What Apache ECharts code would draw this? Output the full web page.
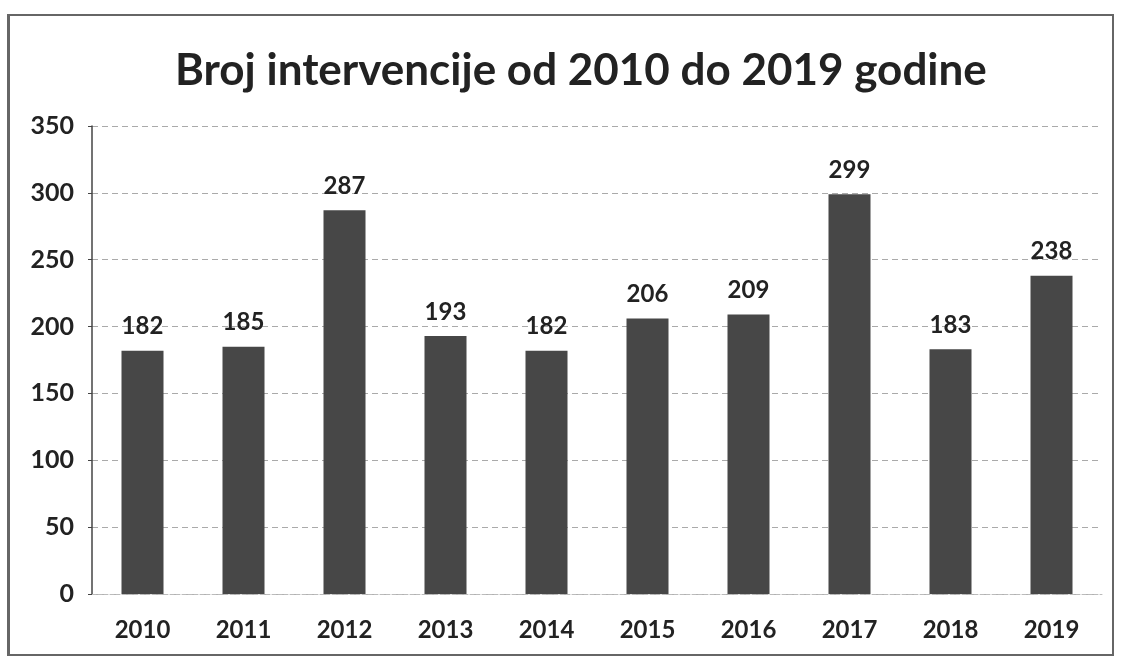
<!DOCTYPE html>
<html>
<head>
<meta charset="utf-8">
<script src="https://cdn.jsdelivr.net/npm/echarts@6/dist/echarts.min.js"></script>
<style>
  body { margin: 0; background: #fff; }
  #frame {
    position: absolute; left: 7px; top: 14px; width: 1102px; height: 638px;
    border: 2px solid #666; border-left-width: 3px;
  }
  #chart { position: absolute; left: 0; top: 0; width: 1126px; height: 660px; }
</style>
</head>
<body>
<div id="frame"></div>
<div id="chart"></div>
<script>
// podaci sa slike
const years = ['2010', '2011', '2012', '2013', '2014', '2015', '2016', '2017', '2018', '2019']
const interventions = [182, 185, 287, 193, 182, 206, 209, 299, 183, 238]
const yTicks = [0, 50, 100, 150, 200, 250, 300, 350]

const chart = echarts.init(document.getElementById('chart'))

const option = {
  animation: false,
  title: {
    text: 'Broj intervencije od 2010 do 2019 godine',
    left: 170,
    top: 44,
    textStyle: {
      fontFamily: 'Lato',
      fontWeight: 'bold',
      fontSize: 44,
      color: '#222'
    }
  },
  grid: {
    left: 92,
    right: 24,
    top: 126,
    bottom: 66
  },
  xAxis: {
    type: 'category',
    data: years,
    axisLine: { show: true, lineStyle: { color: '#bbb', type: 'dashed' } },
    axisTick: { show: false },
    axisLabel: {
      fontFamily: 'Lato',
      fontWeight: 'bold',
      fontSize: 24,
      color: '#222',
      margin: 24
    }
  },
  yAxis: {
    type: 'value',
    min: yTicks[0],
    max: yTicks[yTicks.length - 1],
    interval: 50,
    axisLine: { show: true, lineStyle: { color: '#444', width: 1.5 } },
    axisTick: { show: true, length: 4, inside: false, lineStyle: { color: '#444' } },
    axisLabel: {
      fontFamily: 'Lato',
      fontWeight: 'bold',
      fontSize: 25,
      color: '#222',
      margin: 18
    },
    splitLine: {
      show: true,
      lineStyle: { color: '#aaa', type: [6, 4], width: 1 }
    }
  },
  series: [
    {
      type: 'bar',
      data: interventions,
      barWidth: 42,
      itemStyle: { color: '#474747' },
      label: {
        show: true,
        position: 'top',
        distance: 12,
        fontFamily: 'Lato',
        fontWeight: 'bold',
        fontSize: 24,
        color: '#222'
      }
    }
  ]
}

chart.setOption(option)
</script>
</body>
</html>
